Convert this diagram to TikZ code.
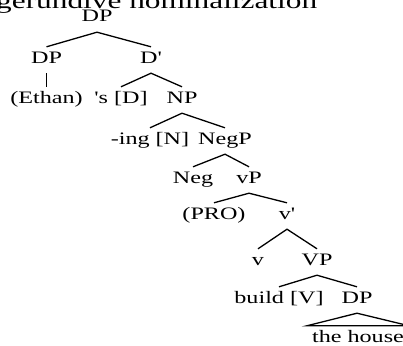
\documentclass[tikz,border=0pt]{standalone}
\usepackage{fontspec}
\setmainfont{Liberation Serif}[FakeStretch=1.38, Ligatures=TeXOff]
\begin{document}
\begin{tikzpicture}[x=1pt, y=-1pt,
  lbl/.style={anchor=base, inner xsep=0pt, inner ysep=5pt,
    text height=11pt, text depth=5pt, font=\fontsize{17.5}{19}\selectfont},
  branch/.style={line width=1.3pt},
  title/.style={anchor=base west, inner sep=0pt, font=\fontsize{22.7}{24}\selectfont}]
\useasboundingbox (0,0) rectangle (403,345);

\node[title] (ttl) at (-4,9) {gerundive nominalization};

% tree labels
\node[lbl] (root)  at (97,22)  {DP};
\node[lbl] (dpl)   at (46.5,63)  {DP};
\node[lbl] (dbar)  at (151,63) {D'};
\node[lbl] (ethan) at (46.5,103) {(Ethan)};
\node[lbl] (sd)    at (121,103) {'s [D]};
\node[lbl] (np)    at (182,103) {NP};
\node[lbl] (ing)   at (150,144) {-ing [N]};
\node[lbl] (negp)  at (225,144) {NegP};
\node[lbl] (neg)   at (193,183) {Neg};
\node[lbl] (vp)    at (249,183) {vP};
\node[lbl] (pro)   at (214,219) {(PRO)};
\node[lbl] (vbar)  at (287,219) {v'};
\node[lbl] (v)     at (258,265) {v};
\node[lbl] (bigvp) at (317,265) {VP};
\node[lbl] (build) at (279,303) {build [V]};
\node[lbl] (dpo)   at (357,303) {DP};
\node[lbl, inner xsep=5pt] (house) at (358,342) {the house};

% branches
\draw[branch] (dpl.north) -- (root.south) -- (dbar.north);
\draw[branch] (dpl.south) -- (ethan.north);
\draw[branch] (sd.north) -- (dbar.south) -- (np.north);
\draw[branch] (ing.north) -- (np.south) -- (negp.north);
\draw[branch] (neg.north) -- (negp.south) -- (vp.north);
\draw[branch] (pro.north) -- (vp.south) -- (vbar.north);
\draw[branch] (v.north) -- (vbar.south) -- (bigvp.north);
\draw[branch] (build.north) -- (bigvp.south) -- (dpo.north);
\draw[branch] (dpo.south) -- (house.north east) -- (house.north west) -- cycle;
\end{tikzpicture}
\end{document}
